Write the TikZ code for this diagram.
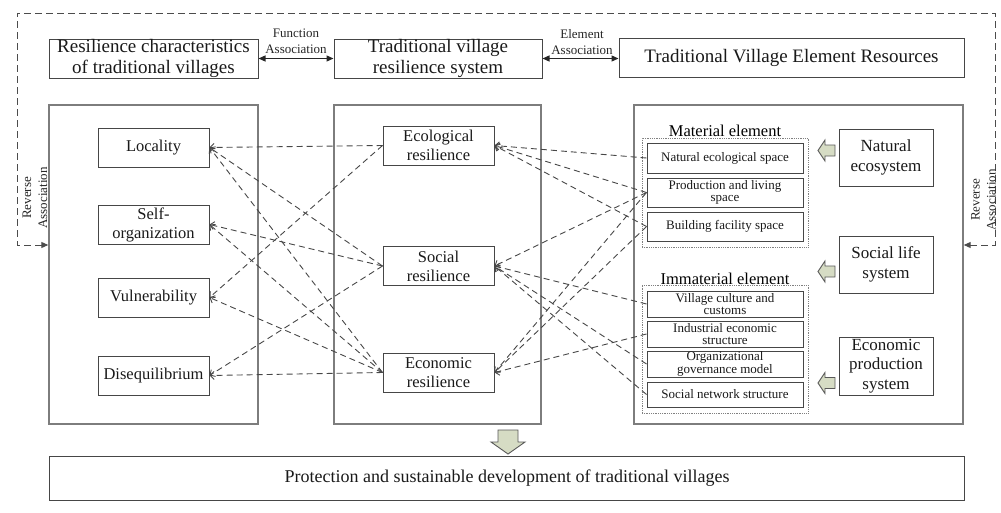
\documentclass[tikz,border=0pt]{standalone}
\usepackage{fontspec}
\setmainfont{Liberation Serif}
\usetikzlibrary{arrows.meta}

\definecolor{edgegray}{RGB}{70,70,70}
\definecolor{panelgray}{RGB}{125,125,125}
\definecolor{sage}{RGB}{214,220,196}

\begin{document}
\begin{tikzpicture}[x=1pt,y=-1pt,
    box/.style={draw=edgegray,line width=1pt,inner sep=0pt,align=center,text=black!90},
    panel/.style={draw=panelgray,line width=1.4pt,inner sep=0pt},
    group/.style={draw=black!50,densely dotted,line width=0.8pt,inner sep=0pt},
    link/.style={draw=black!72,dash pattern=on 6pt off 4pt,line width=0.9pt,-{Straight Barb[length=4pt,width=8pt]}},
    assoc/.style={black!85,line width=1.2pt,{Triangle[length=7pt,width=6pt]}-{Triangle[length=7pt,width=6pt]}},
    rev/.style={draw=black!70,dash pattern=on 7pt off 4pt,line width=1pt},
    hollow/.style={draw=black!65,fill=sage,line width=0.9pt},
    big/.style={font=\fontsize{19}{21}\selectfont},
    mid/.style={font=\fontsize{16.5}{19}\selectfont},
    small/.style={font=\fontsize{13}{12.4}\selectfont},
    tiny/.style={font=\fontsize{13}{16}\selectfont,align=center,text=black!85}]
    \useasboundingbox (0,0) rectangle (1001,512);

    % top row
    \node[box,big,minimum width=209,minimum height=39] (rc) at (153.5,58.5) {Resilience characteristics\\of traditional villages};
    \node[box,big,minimum width=208,minimum height=39] (trs) at (438,58.5) {Traditional village\\resilience system};
    \node[box,big,minimum width=345,minimum height=39] (ter) at (791.5,57.5) {Traditional Village Element Resources};
    \draw[assoc] (rc.east) -- (trs.west);
    \draw[assoc] (trs.east) -- (trs.east -| ter.west);
    \node[tiny] (fa) at (296,41.5) {Function\\Association};
    \node[tiny] (ea) at (582,42.5) {Element\\Association};

    % panels
    \node[panel,minimum width=209,minimum height=319] (lp) at (153.5,264.5) {};
    \node[panel,minimum width=207,minimum height=319] (mp) at (437.5,264.5) {};
    \node[panel,minimum width=329,minimum height=319] (rp) at (798.5,264.5) {};

    % reverse association
    \coordinate (ltop) at (17,13);
    \coordinate (rtop) at (995,13);
    \coordinate (lbend) at (17,245);
    \coordinate (rbend) at (995,245);
    \draw[rev,{Triangle[length=7pt,width=6pt]}-{Triangle[length=7pt,width=6pt]}] (lbend -| lp.west) -- (lbend) -- (ltop) -- (rtop) -- (rbend) -- (rbend -| rp.east);
    \node[tiny,rotate=90] (revl) at (35,198) {Reverse\\Association};
    \node[tiny,rotate=90] (revr) at (983.5,200) {Reverse\\Association};

    % characteristics
    \node[box,mid,minimum width=111,minimum height=39] (loc) at (153.5,147.5) {Locality};
    \node[box,mid,minimum width=111,minimum height=39] (selforg) at (153.5,224.5) {Self-\\organization};
    \node[box,mid,minimum width=111,minimum height=39] (vul) at (153.5,297.5) {Vulnerability};
    \node[box,mid,minimum width=111,minimum height=39] (dis) at (153.5,375.5) {Disequilibrium};

    % resilience system
    \node[box,mid,minimum width=111,minimum height=39] (eco) at (438.5,145.5) {Ecological\\resilience};
    \node[box,mid,minimum width=111,minimum height=39] (soc) at (438.5,266) {Social\\resilience};
    \node[box,mid,minimum width=111,minimum height=39] (econ) at (438.5,372.5) {Economic\\resilience};

    % element resources
    \node[group,minimum width=166,minimum height=109] (mat) at (725,192.5) {};
    \node[group,minimum width=166,minimum height=128] (imm) at (725,349) {};
    \node[mid,inner sep=0pt] (matlbl) at (725,131) {Material element};
    \node[mid,inner sep=0pt] (immlbl) at (725,279) {Immaterial element};
    \node[box,small,minimum width=156,minimum height=30] (nes) at (725,158) {Natural ecological space};
    \node[box,small,minimum width=156,minimum height=29] (pls) at (725,192.5) {Production and living\\space};
    \node[box,small,minimum width=156,minimum height=29] (bfs) at (725,226.5) {Building facility space};
    \node[box,small,minimum width=156,minimum height=26] (vcc) at (725,304) {Village culture and\\customs};
    \node[box,small,minimum width=156,minimum height=26] (ies) at (725,334) {Industrial economic\\structure};
    \node[box,small,minimum width=156,minimum height=26] (ogm) at (725,364) {Organizational\\governance model};
    \node[box,small,minimum width=156,minimum height=25] (sns) at (725,394.5) {Social network structure};

    \node[box,font=\fontsize{17}{19.5}\selectfont,minimum width=94,minimum height=57] (neco) at (886,157.5) {Natural\\ecosystem};
    \node[box,font=\fontsize{17}{19.5}\selectfont,minimum width=94,minimum height=57] (slife) at (886,264.5) {Social life\\system};
    \node[box,font=\fontsize{17}{19.5}\selectfont,minimum width=94,minimum height=58] (eprod) at (886,366) {Economic\\production\\system};
    \foreach \yy in {150.5,271.5,383}
        \draw[hollow] (818,\yy) -- ++(7,-10.5) -- ++(0,5) -- ++(10,0) -- ++(0,11) -- ++(-10,0) -- ++(0,5) -- cycle;

    % links
    \foreach \a/\b in {eco/loc,soc/loc,econ/loc,soc/selforg,econ/selforg,eco/vul,econ/vul,soc/dis,econ/dis}
        \draw[link] (\a.west) -- (\b.east);
    \foreach \a/\b in {nes/eco,pls/eco,bfs/eco,pls/soc,vcc/soc,ogm/soc,sns/soc,pls/econ,bfs/econ,ies/econ}
        \draw[link] (\a.west) -- (\b.east);

    % goal
    \draw[hollow] (498,430) -- ++(20,0) -- ++(0,12) -- ++(7,0) -- ++(-17,12) -- ++(-17,-12) -- ++(7,0) -- cycle;
    \node[box,font=\fontsize{18}{20}\selectfont,minimum width=915,minimum height=44] (goal) at (507,478) {Protection and sustainable development of traditional villages};
\end{tikzpicture}
\end{document}
